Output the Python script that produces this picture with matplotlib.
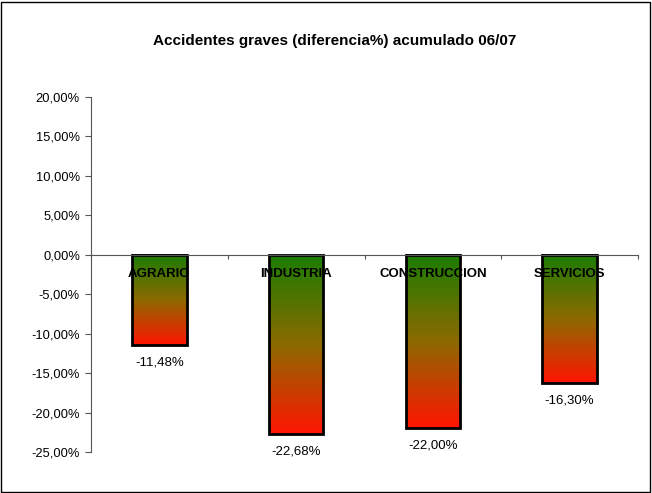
import matplotlib
matplotlib.use("Agg")
import matplotlib.pyplot as plt
import numpy as np
from matplotlib.colors import LinearSegmentedColormap
from matplotlib.patches import Rectangle

categories = ["AGRARIO", "INDUSTRIA", "CONSTRUCCION", "SERVICIOS"]
values = [-11.48, -22.68, -22.00, -16.30]
yticks = [-25, -20, -15, -10, -5, 0, 5, 10, 15, 20]
title = "Accidentes graves (diferencia%) acumulado 06/07"

plt.rcParams['font.family'] = ['Liberation Sans', 'DejaVu Sans']

fig = plt.figure(figsize=(6.52, 4.93), dpi=100)
ax = fig.add_axes([91/652, 1-452/493, (638-91)/652, (452-97)/493])

cmap = LinearSegmentedColormap.from_list("gr", ["#1a7d00", "#8c6a00", "#ff1500"])
grad = np.linspace(0, 1, 256).reshape(-1, 1)
width = 0.40
x = np.arange(len(categories))
for xi, v, cat in zip(x, values, categories):
    x0 = xi - width/2
    ax.imshow(grad, cmap=cmap, aspect='auto', extent=[x0, x0+width, v, 0],
              origin='upper', zorder=2, interpolation='bilinear')
    ax.add_patch(Rectangle((x0, v), width, -v, fill=False, edgecolor='black',
                           linewidth=2, zorder=3))
    ax.text(xi, -2.4, cat, ha='center', va='center', fontsize=9.5,
            fontweight='bold', zorder=4)
    ax.text(xi, v - 2.2, f"{v:.2f}%".replace('.', ','), ha='center',
            va='center', fontsize=9.5, zorder=4)

ax.set_xlim(-0.5, len(categories) - 0.5)
ax.set_ylim(-25, 20)
ax.set_yticks(yticks)
ax.set_yticklabels([f"{t:.2f}%".replace('.', ',') for t in yticks], fontsize=9.3)
ax.set_xticks(np.arange(len(categories) + 1) - 0.5)
ax.set_xticklabels([])
ax.tick_params(axis='x', direction='out', length=3, color='#555555')
ax.tick_params(axis='y', direction='out', length=4, color='#555555', pad=4)
ax.spines['top'].set_visible(False)
ax.spines['right'].set_visible(False)
ax.spines['bottom'].set_position(('data', 0))
ax.spines['bottom'].set_color('#555555')
ax.spines['left'].set_color('#555555')
ax.spines['bottom'].set_zorder(5)

fig.text(335/652, 1-41/493, title, ha='center', va='center', fontsize=11,
         fontweight='bold')
fig.patches.append(Rectangle((1/652, 1/493), 649/652, 490/493, fill=False,
                             edgecolor='black', linewidth=1,
                             transform=fig.transFigure, figure=fig))

fig.savefig("out.png", dpi=100)
